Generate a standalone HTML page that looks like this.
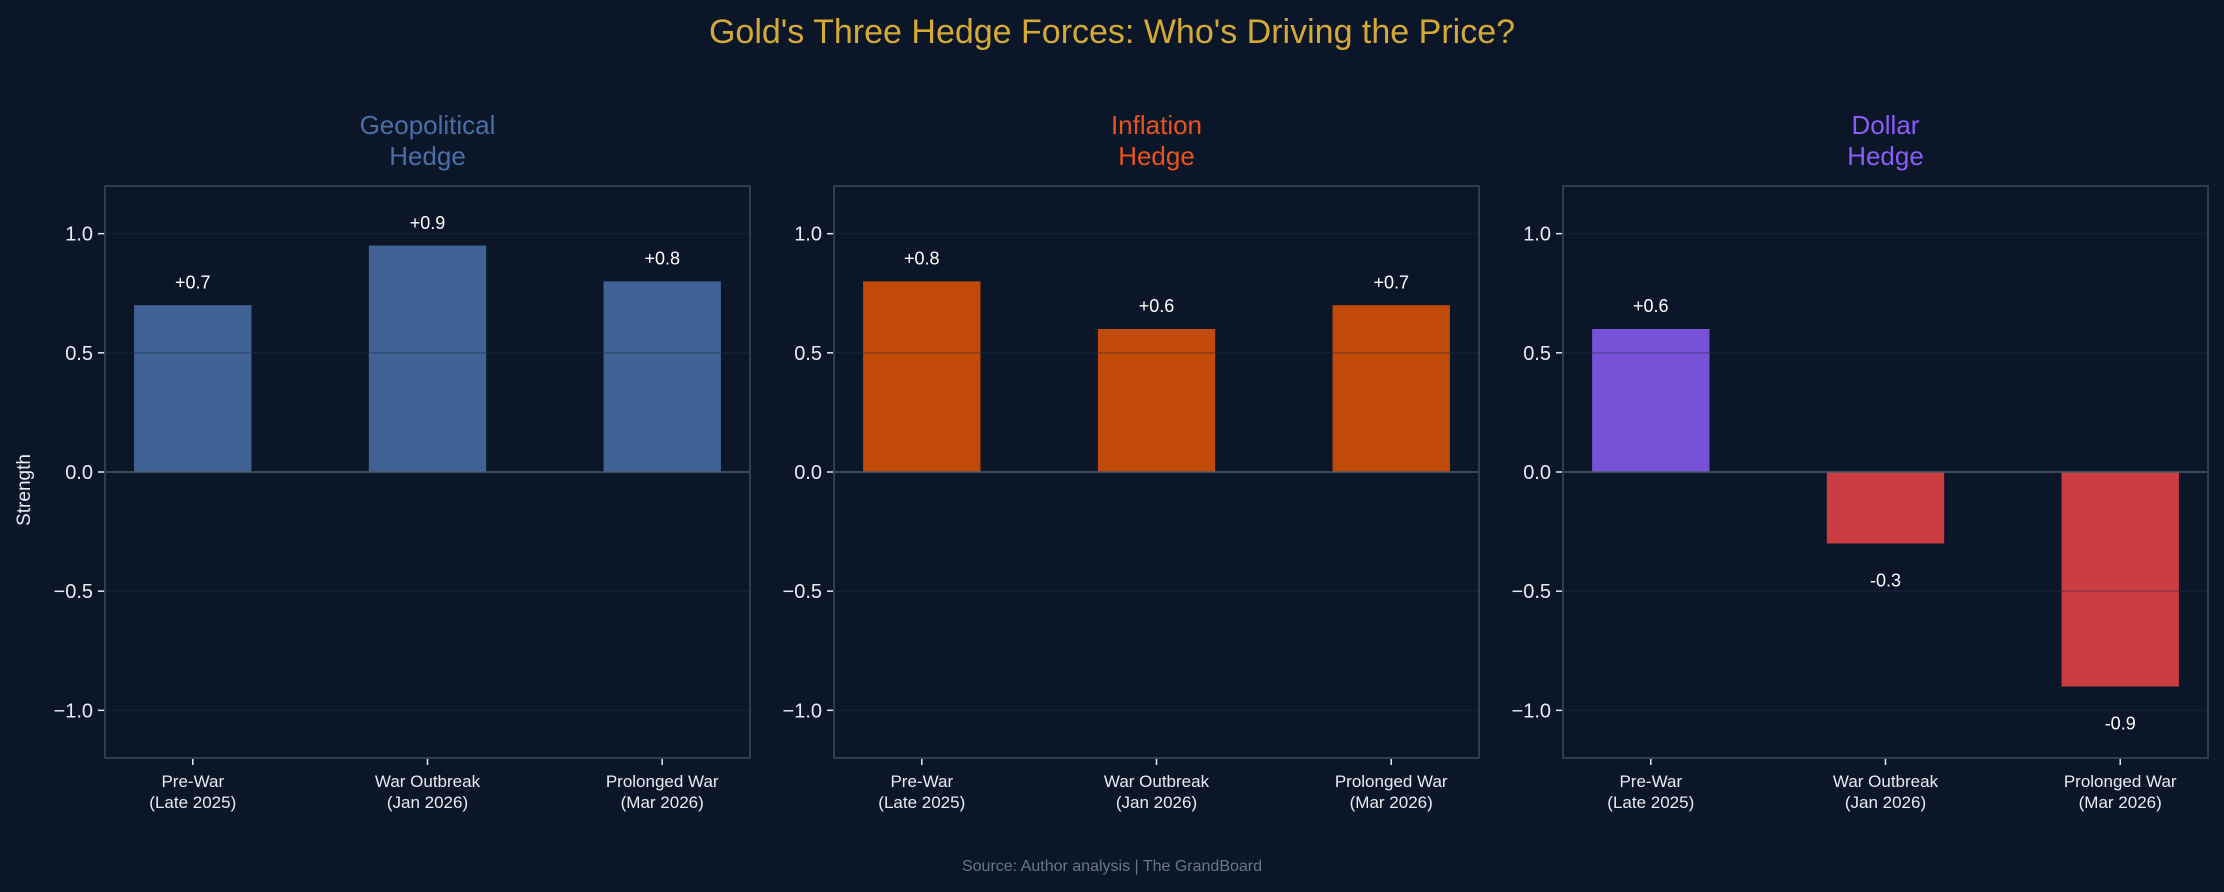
<!DOCTYPE html>
<html><head><meta charset="utf-8">
<style>
html,body{margin:0;padding:0;background:#0b1628;}
svg{display:block;font-family:"Liberation Sans",sans-serif;}
</style></head>
<body>
<svg id="c" width="2224" height="892" viewBox="0 0 2224 892" xmlns="http://www.w3.org/2000/svg">
<rect width="2224" height="892" fill="#0b1628"/>
<text x="1112" y="43" text-anchor="middle" font-size="34" fill="#d4a935">Gold's Three Hedge Forces: Who's Driving the Price?</text>
<text transform="translate(30,490) rotate(-90)" text-anchor="middle" font-size="19" fill="#e8ecf2">Strength</text>
<text x="1112" y="871" text-anchor="middle" font-size="16" fill="#6b7688">Source: Author analysis | The GrandBoard</text>
</svg>
<script>
const categories = ["Pre-War|(Late 2025)", "War Outbreak|(Jan 2026)", "Prolonged War|(Mar 2026)"];
const panelTitles = ["Geopolitical|Hedge", "Inflation|Hedge", "Dollar|Hedge"];
const geoValues = [0.7, 0.95, 0.8];
const inflValues = [0.8, 0.6, 0.7];
const dollarValues = [0.6, -0.3, -0.9];
const geoLabels = ["+0.7", "+0.9", "+0.8"];
const inflLabels = ["+0.8", "+0.6", "+0.7"];
const dollarLabels = ["+0.6", "-0.3", "-0.9"];
const yTicks = [1.0, 0.5, 0.0, -0.5, -1.0];
const yTickLabels = ["1.0", "0.5", "0.0", "\u22120.5", "\u22121.0"];

const NS = "http://www.w3.org/2000/svg";
const svg = document.getElementById("c");
function mk(tag, attrs, parent) {
  const e = document.createElementNS(NS, tag);
  for (const k in attrs) e.setAttribute(k, attrs[k]);
  (parent || svg).appendChild(e);
  return e;
}
const panels = [
  {left:105, vals:geoValues, labels:geoLabels, title:"#4a6fa8", colors:["#416294","#416294","#416294"], name:"geopolitical"},
  {left:834, vals:inflValues, labels:inflLabels, title:"#e8541c", colors:["#c24a08","#c24a08","#c24a08"], name:"inflation"},
  {left:1563, vals:dollarValues, labels:dollarLabels, title:"#8b5cf6", colors:null, name:"dollar"}
];
const W = 645, yTop = 186, yBot = 758, yMin = -1.2, yMax = 1.2;
const y = v => yTop + (yMax - v) / (yMax - yMin) * (yBot - yTop);

panels.forEach((p, pi) => {
  const g = mk("g", {});
  
  
  const x = i => p.left + W * (i + 0.374) / 2.748;
  const step = W / 2.748;
  const t = panelTitles[pi].split("|");
  t.forEach((line, li) => {
    const tt = mk("text", {x: p.left + W/2, y: 134 + li*31, "text-anchor":"middle", "font-size":26, fill:p.title}, g);
    tt.textContent = line;
    
    
  });
  yTicks.forEach((v, k) => {
    if (v !== 0) {
      const gl = mk("line", {x1:p.left, x2:p.left+W, y1:y(v), y2:y(v), stroke:"#152032", "stroke-width":1.5}, g);
      
      
    }
    const tk = mk("line", {x1:p.left-7, x2:p.left, y1:y(v), y2:y(v), stroke:"#e8ecf2", "stroke-width":1.5}, g);
    
    
    const tl = mk("text", {x:p.left-12, y:y(v)+7, "text-anchor":"end", "font-size":20, fill:"#e8ecf2"}, g);
    tl.textContent = yTickLabels[k];
    
    
  });
  p.vals.forEach((v, i) => {
    const col = p.colors ? p.colors[i] : (v >= 0 ? "#7752d6" : "#cc3d43");
    const bw = step * 0.5;
    const b = mk("rect", {x:x(i)-bw/2, y:Math.min(y(v), y(0)), width:bw, height:Math.abs(y(v)-y(0)), fill:col}, g);
    
    
    const ly = v >= 0 ? y(v + 0.1) + 7 : y(v - 0.15) + 7;
    const lb = mk("text", {x:x(i), y:ly, "text-anchor":"middle", "font-size":18, fill:"#ffffff"}, g);
    lb.textContent = p.labels[i];
    
    
    const xt = mk("line", {x1:x(i), x2:x(i), y1:yBot, y2:yBot+7, stroke:"#e8ecf2", "stroke-width":1.5}, g);
    
    
    categories[i].split("|").forEach((line, li) => {
      const xl = mk("text", {x:x(i), y:787 + li*21, "text-anchor":"middle", "font-size":17, fill:"#e8ecf2"}, g);
      xl.textContent = line;
      
      
    });
  });
  [0.5, -0.5].forEach(v => {
    const ov = mk("line", {x1:p.left, x2:p.left+W, y1:y(v), y2:y(v), stroke:"#1a2638", "stroke-opacity":0.35, "stroke-width":1.5}, g);
    
    
  });
  const z = mk("line", {x1:p.left, x2:p.left+W, y1:y(0), y2:y(0), stroke:"#4e5a6a", "stroke-width":1.5}, g);
  
  
  const fr = mk("rect", {x:p.left, y:yTop, width:W, height:yBot-yTop, fill:"none", stroke:"#2f3d50", "stroke-width":2}, g);
  
  
});
</script>
</body></html>
